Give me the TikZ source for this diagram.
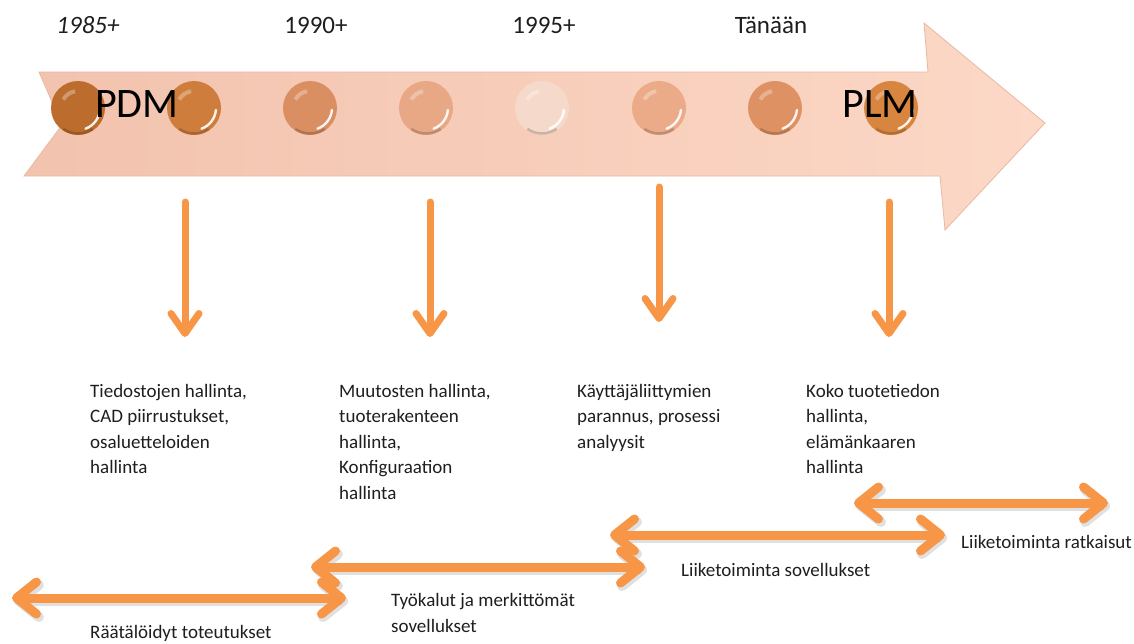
\documentclass[tikz,border=0pt]{standalone}
\usepackage{fontspec}
\setmainfont{Carlito}
\usetikzlibrary{arrows.meta}
\definecolor{org}{HTML}{F79646}
\definecolor{arrL}{HTML}{F2C3AE}
\definecolor{arrR}{HTML}{FCD8C6}
\definecolor{arrE}{HTML}{E9B8A2}
\definecolor{txt}{HTML}{1E1E1E}
\definecolor{b1}{HTML}{BC6C2D}
\definecolor{b2}{HTML}{CF7D3D}
\definecolor{b3}{HTML}{DA8F63}
\definecolor{b4}{HTML}{E8A886}
\definecolor{b5}{HTML}{F5DACB}
\definecolor{b6}{HTML}{EBAB89}
\definecolor{b7}{HTML}{DE9163}
\definecolor{b8}{HTML}{D8853F}
\begin{document}
\begin{tikzpicture}[x=1pt,y=-1pt,
  year/.style={font=\fontsize{25}{28}\selectfont, text=txt, anchor=base, inner sep=0pt},
  big/.style={font=\fontsize{42}{44}\selectfont, text=black, anchor=base, inner sep=0pt},
  body/.style={font=\fontsize{19}{25.5}\selectfont, text=txt, align=left, anchor=base west, inner sep=0pt},
  lbl/.style={font=\fontsize{19}{26}\selectfont, text=txt, align=left, anchor=base west, inner sep=0pt},
  ball/.style={circle, minimum size=54pt, inner sep=0pt, outer sep=0pt},
  downarr/.style={draw=org, line width=7pt, line cap=round, -{Straight Barb[round,length=20pt,width=28pt]}},
  dblarr/.style={draw=org, line width=9pt, line cap=round, {Straight Barb[round,length=20pt,width=32pt]}-{Straight Barb[round,length=20pt,width=32pt]}},
  shadowarr/.style={draw=black, opacity=0.12, line width=10pt, line cap=round, {Straight Barb[round,length=20pt,width=32pt]}-{Straight Barb[round,length=20pt,width=32pt]}}
]
\useasboundingbox (0,0) rectangle (1134,643);

% big timeline arrow
\path[left color=arrL, right color=arrR, draw=arrE, line width=0.8pt]
  (39,72) -- (928,72) -- (924,23) -- (1045,123) -- (945,230) -- (940,176)
  -- (24,176) -- (62,125) -- cycle;

% balls
\foreach \i/\x/\c in {1/78/b1, 2/194/b2, 3/310/b3, 4/426/b4, 5/542/b5, 6/659/b6, 7/775/b7, 8/891/b8}{
  \node[ball, fill=\c] (c\i) at (\x,108) {};
  \begin{scope}[shift={(c\i.center)}, x=1pt, y=1pt]
    \draw[\c!65!black, opacity=0.5, line width=2.5pt] (-125:25.5pt) arc[start angle=-125, end angle=-55, radius=25.5pt];
    \draw[white, opacity=0.9, line width=2.4pt, line cap=round] (-70:22pt) arc[start angle=-70, end angle=-5, radius=22pt];
    \draw[white, opacity=0.3, line width=4pt] (150:17pt) arc[start angle=150, end angle=100, radius=17pt];
  \end{scope}
}

% titles on the arrow
\node[big] (pdm) at (137,117) {PDM};
\node[big] (plm) at (880,117) {PLM};

% years
\node[year, font=\fontsize{25}{28}\selectfont\itshape] (y1) at (88,33) {1985+};
\node[year] (y2) at (316,33) {1990+};
\node[year] (y3) at (544,33) {1995+};
\node[year] (y4) at (771,33) {Tänään};

% down arrows
\coordinate (d1s) at (185,202); \coordinate (d1e) at (185,337);
\coordinate (d2s) at (430,202); \coordinate (d2e) at (430,337);
\coordinate (d3s) at (659,187); \coordinate (d3e) at (659,322);
\coordinate (d4s) at (889,202); \coordinate (d4e) at (889,337);
\draw[downarr] (d1s) -- (d1e);
\draw[downarr] (d2s) -- (d2e);
\draw[downarr] (d3s) -- (d3e);
\draw[downarr] (d4s) -- (d4e);

% text blocks (base anchor = baseline of last line)
\node[body] (t1) at (90,473.5) {Tiedostojen hallinta,\\CAD piirrustukset,\\osaluetteloiden\\hallinta};
\node[body] (t2) at (339,499) {Muutosten hallinta,\\tuoterakenteen\\hallinta,\\Konfiguraation\\hallinta};
\node[body] (t3) at (577,448) {Käyttäjäliittymien\\parannus, prosessi\\analyysit};
\node[body] (t4) at (806,473.5) {Koko tuotetiedon\\hallinta,\\elämänkaaren\\hallinta};

% horizontal double arrows
\coordinate (aL) at (12,598);  \coordinate (aR) at (346,598);
\coordinate (bL) at (311,567); \coordinate (bR) at (645,567);
\coordinate (cL) at (610,535); \coordinate (cR) at (945,535);
\coordinate (dL) at (854,503); \coordinate (dR) at (1108,503);
\foreach \l/\r in {a/a, b/b, c/c, d/d}{
  \draw[shadowarr] ([shift={(2,3)}]\l L) -- ([shift={(2,3)}]\r R);
}
\draw[dblarr] (aL) -- (aR);
\draw[dblarr] (bL) -- (bR);
\draw[dblarr] (cL) -- (cR);
\draw[dblarr] (dL) -- (dR);

% labels of the ranges
\node[lbl] (l1) at (90,638) {Räätälöidyt toteutukset};
\node[lbl] (l2) at (391,632) {Työkalut ja merkittömät\\sovellukset};
\node[lbl] (l3) at (681,576) {Liiketoiminta sovellukset};
\node[lbl] (l4) at (961,548) {Liiketoiminta ratkaisut};
\end{tikzpicture}
\end{document}
